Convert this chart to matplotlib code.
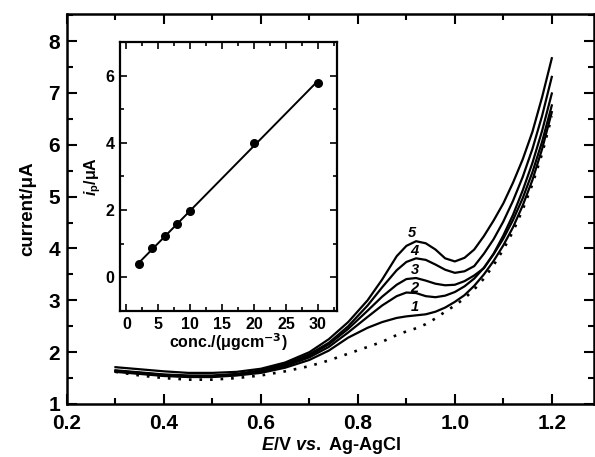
import numpy as np
import matplotlib.pyplot as plt
from matplotlib.ticker import MultipleLocator

plt.rcParams['font.family'] = ['Liberation Sans', 'DejaVu Sans']
plt.rcParams['font.weight'] = 'bold'
plt.rcParams['mathtext.fontset'] = 'custom'
plt.rcParams['mathtext.it'] = 'Liberation Sans:bold:italic'
plt.rcParams['mathtext.rm'] = 'Liberation Sans:bold'

# ── Data ─────────────────────────────────────────────────────
E = [0.30, 0.35, 0.40, 0.45, 0.50, 0.55, 0.60, 0.65, 0.70, 0.74,
     0.78, 0.82, 0.85, 0.88, 0.90, 0.92, 0.94, 0.96, 0.98, 1.00,
     1.02, 1.04, 1.06, 1.08, 1.10, 1.12, 1.14, 1.16, 1.18, 1.20]

blank = [1.62, 1.55, 1.50, 1.47, 1.47, 1.50, 1.55, 1.63, 1.73, 1.84,
         1.97, 2.10, 2.20, 2.33, 2.40, 2.46, 2.54, 2.65, 2.78, 2.90,
         3.04, 3.21, 3.42, 3.68, 3.98, 4.33, 4.75, 5.24, 5.83, 6.55]
curve1 = [1.62, 1.58, 1.54, 1.52, 1.52, 1.55, 1.60, 1.70, 1.85, 2.03,
          2.28, 2.47, 2.58, 2.66, 2.69, 2.71, 2.73, 2.78, 2.86, 2.97,
          3.10, 3.28, 3.50, 3.76, 4.06, 4.41, 4.83, 5.32, 5.92, 6.63]
curve2 = [1.63, 1.59, 1.55, 1.53, 1.53, 1.56, 1.62, 1.73, 1.90, 2.10,
          2.38, 2.68, 2.90, 3.08, 3.15, 3.14, 3.08, 3.06, 3.09, 3.16,
          3.27, 3.42, 3.63, 3.89, 4.19, 4.55, 4.97, 5.47, 6.06, 6.76]
curve3 = [1.64, 1.60, 1.56, 1.54, 1.54, 1.57, 1.63, 1.75, 1.93, 2.15,
          2.45, 2.80, 3.07, 3.30, 3.41, 3.43, 3.38, 3.32, 3.29, 3.30,
          3.37, 3.48, 3.62, 3.90, 4.25, 4.65, 5.12, 5.65, 6.27, 6.99]
curve4 = [1.65, 1.61, 1.57, 1.55, 1.55, 1.58, 1.65, 1.77, 1.96, 2.18,
          2.50, 2.90, 3.25, 3.58, 3.74, 3.81, 3.78, 3.69, 3.59, 3.53,
          3.56, 3.66, 3.90, 4.18, 4.52, 4.92, 5.38, 5.92, 6.56, 7.31]
curve5 = [1.71, 1.67, 1.63, 1.60, 1.60, 1.62, 1.68, 1.80, 2.00, 2.25,
          2.58, 3.00, 3.40, 3.85, 4.05, 4.14, 4.10, 3.98, 3.81, 3.75,
          3.82, 3.98, 4.24, 4.54, 4.87, 5.27, 5.72, 6.25, 6.92, 7.67]

curve_labels = ['1', '2', '3', '4', '5']
label_E = [0.917, 0.917, 0.917, 0.917, 0.912]
label_I = [2.88, 3.24, 3.58, 3.96, 4.30]

conc = [2, 4, 6, 8, 10, 20, 30]
ip = [0.39, 0.87, 1.22, 1.58, 1.97, 4.00, 5.79]

# ── Figure ───────────────────────────────────────────────────
fig = plt.figure(figsize=(5.95, 4.57), dpi=100)
ax = fig.add_axes([0.1126, 0.116, 0.8857, 0.853])

for c in [curve1, curve2, curve3, curve4, curve5]:
    ax.plot(E, c, color='black', lw=1.6)
ax.plot(E, blank, color='black', lw=1.9, ls=(0, (1, 3)))

for t, xe, yi in zip(curve_labels, label_E, label_I):
    ax.text(xe, yi, t, fontsize=10.5, style='italic', fontweight='bold',
            ha='center', va='center')

ax.set_xlim(0.2, 1.287)
ax.set_ylim(1, 8.52)
ax.xaxis.set_major_locator(MultipleLocator(0.2))
ax.xaxis.set_minor_locator(MultipleLocator(0.1))
ax.yaxis.set_major_locator(MultipleLocator(1))
ax.yaxis.set_minor_locator(MultipleLocator(0.5))
ax.set_xticks([0.2, 0.4, 0.6, 0.8, 1.0, 1.2])
ax.set_xticklabels(['0.2', '0.4', '0.6', '0.8', '1.0', '1.2'])
ax.tick_params(which='both', direction='in', top=True, right=True,
               width=1.5, labelsize=15)
ax.tick_params(axis='x', pad=7)
ax.tick_params(axis='y', pad=5)
ax.tick_params(which='major', length=7)
ax.tick_params(which='minor', length=4)
for s in ax.spines.values():
    s.set_linewidth(1.8)
ax.set_xlabel(r'$\it{E}$/V $\it{vs.}$ Ag-AgCl', fontsize=13,
              fontweight='bold', labelpad=2)
ax.set_ylabel('current/μA', fontsize=13.5, fontweight='bold', labelpad=9)

# ── Inset ────────────────────────────────────────────────────
ins = fig.add_axes([0.2017, 0.3195, 0.3647, 0.5886])
slope, icpt = np.polyfit(conc, ip, 1)
xfit = np.array([conc[0], conc[-1]])
ins.plot(xfit, slope * xfit + icpt, color='black', lw=1.4)
ins.plot(conc, ip, 'o', color='black', ms=5.5)
ins.set_xlim(-1, 33)
ins.set_ylim(-1, 7)
ins.xaxis.set_major_locator(MultipleLocator(5))
ins.xaxis.set_minor_locator(MultipleLocator(2.5))
ins.yaxis.set_major_locator(MultipleLocator(2))
ins.yaxis.set_minor_locator(MultipleLocator(1))
ins.tick_params(which='both', direction='in', top=True, right=True,
                width=1.2, labelsize=11.5, pad=4)
ins.tick_params(which='major', length=5)
ins.tick_params(which='minor', length=3)
for s in ins.spines.values():
    s.set_linewidth(1.6)
ins.set_xlabel(r'conc./(μgcm$^{\mathbf{-3}}$)', fontsize=11.5,
               fontweight='bold', labelpad=0)
ins.set_ylabel(r'$i_{\rm p}$/μA', fontsize=11.5, fontweight='bold',
               labelpad=2)

plt.savefig('out.png', dpi=100)
